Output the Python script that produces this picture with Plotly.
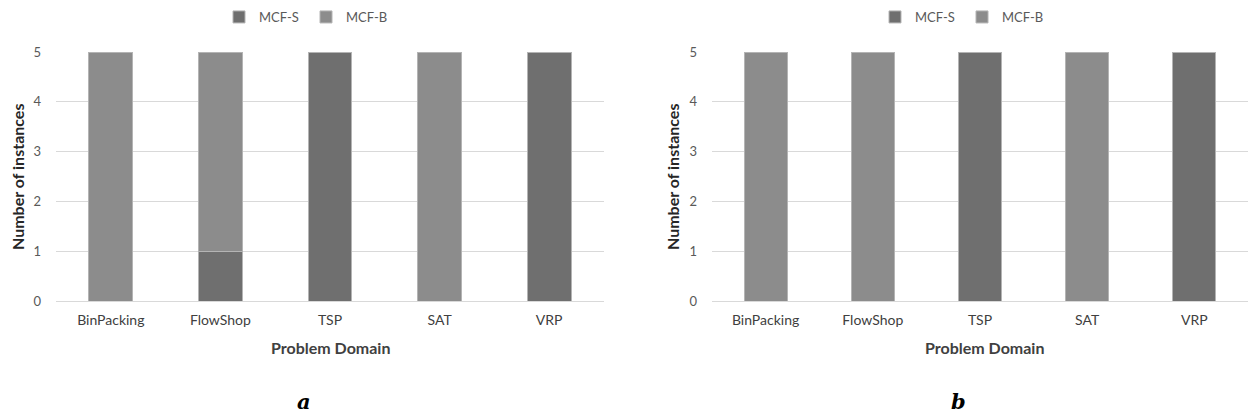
import plotly.graph_objects as go

categories = ["BinPacking", "FlowShop", "TSP", "SAT", "VRP"]
a_mcf_s = [0, 1, 5, 0, 5]
a_mcf_b = [5, 4, 0, 5, 0]
b_mcf_s = [0, 0, 5, 0, 5]
b_mcf_b = [5, 5, 0, 5, 0]
y_ticks = [0, 1, 2, 3, 4, 5]

C_S = "#6f6f6f"
C_B = "#8c8c8c"
EDGE = "#b4b4b4"
TXT = "#595959"
FONT = "Lato"
W, H = 1248, 416


def px(X):
    return X / W


def py(Y):
    return 1 - Y / H


fig = go.Figure()
for xa, ya, s, b, lg in [("x", "y", a_mcf_s, a_mcf_b, "legend"),
                         ("x2", "y2", b_mcf_s, b_mcf_b, "legend2")]:
    fig.add_trace(go.Bar(x=categories, y=s, name="MCF-S", marker=dict(color=C_S, line=dict(color=EDGE, width=1)),
                         xaxis=xa, yaxis=ya, legend=lg, width=0.4))
    fig.add_trace(go.Bar(x=categories, y=b, name="MCF-B", marker=dict(color=C_B, line=dict(color=EDGE, width=1)),
                         xaxis=xa, yaxis=ya, legend=lg, width=0.4))

ydom = [py(301), py(52)]
yax = dict(range=[0, 5], tickvals=y_ticks, showgrid=True, gridcolor="#d9d9d9", gridwidth=1,
           zeroline=False, showline=False, tickfont=dict(family=FONT, size=13, color=TXT),
           ticklabelstandoff=14, domain=ydom, fixedrange=True, automargin=False)
xax = dict(showline=True, linecolor="#d9d9d9", linewidth=1, showgrid=False,
           tickfont=dict(family=FONT, size=14, color="#404040"), ticklabelstandoff=6,
           fixedrange=True, automargin=False)

legend_common = dict(orientation="h", xanchor="center", yanchor="middle", y=py(17),
                     font=dict(family=FONT, size=13, color=TXT), bgcolor="rgba(0,0,0,0)",
                     itemwidth=30, entrywidth=42, tracegroupgap=0, traceorder="normal")

fig.update_layout(
    width=W, height=H, margin=dict(l=0, r=0, t=0, b=0, autoexpand=False),
    plot_bgcolor="white", paper_bgcolor="white", barmode="stack", showlegend=True,
    xaxis=dict(domain=[px(56), px(604)], anchor="y", **xax),
    xaxis2=dict(domain=[px(712), 1.0], anchor="y2", **xax),
    yaxis=dict(anchor="x", **yax),
    yaxis2=dict(anchor="x2", **yax),
    legend=dict(x=px(306), **legend_common),
    legend2=dict(x=px(962), **legend_common),
)

ann = []
for cx, ytx, cap, capx in [(330, 18, "a", 304), (984, 673, "b", 958)]:
    ann.append(dict(text="<b>Problem Domain</b>", x=px(cx), y=py(347), xref="paper", yref="paper",
                    showarrow=False, font=dict(family=FONT, size=16, color="#404040"),
                    xanchor="center", yanchor="middle"))
    ann.append(dict(text="<b>Number of instances</b>", x=px(ytx), y=py(177), xref="paper", yref="paper",
                    showarrow=False, textangle=-90, font=dict(family=FONT, size=16, color="#262626"),
                    xanchor="center", yanchor="middle"))
    ann.append(dict(text="<b><i>" + cap + "</i></b>", x=px(capx), y=py(415), xref="paper", yref="paper",
                    showarrow=False, font=dict(family="DejaVu Serif", size=21, color="#000000"),
                    xanchor="center", yanchor="bottom", borderpad=0))
fig.update_layout(annotations=ann)

fig.write_html("out.html", config={"displayModeBar": False},
               post_script="document.body.style.margin='0';document.body.style.overflow='hidden';")
